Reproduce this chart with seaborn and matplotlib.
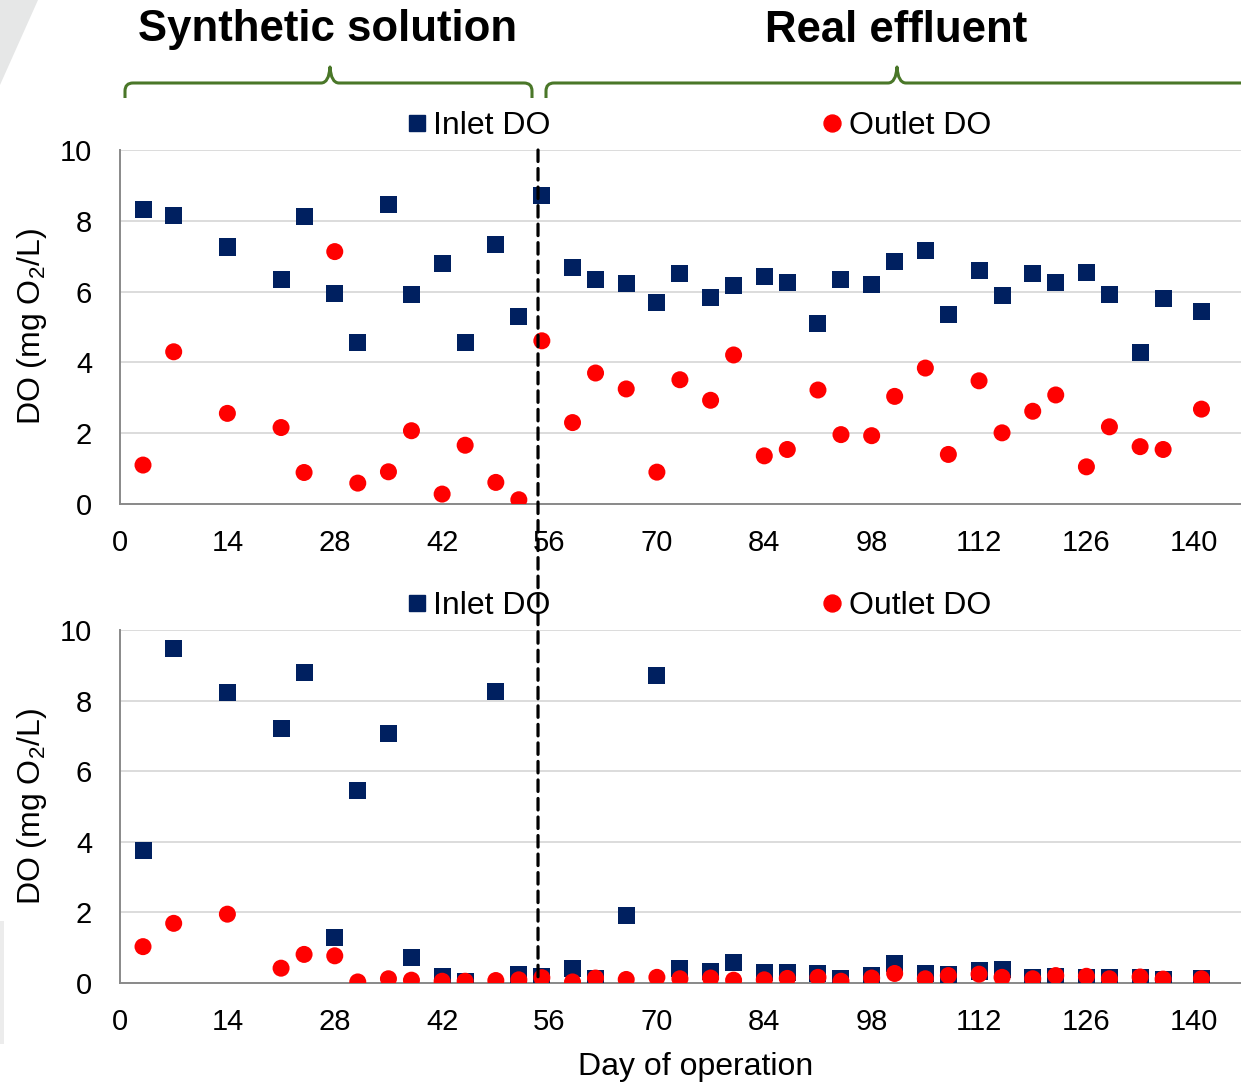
import matplotlib
matplotlib.use("Agg")
import numpy as np
import pandas as pd
import matplotlib.pyplot as plt
import seaborn as sns
from matplotlib.path import Path
from matplotlib.patches import PathPatch, Polygon, Rectangle, ConnectionPatch
from matplotlib.lines import Line2D
from matplotlib.ticker import MultipleLocator

# ---- data -------------------------------------------------------------
days = [3, 7, 14, 21, 24, 28, 31, 35, 38, 42, 45, 49, 52, 55,
        59, 62, 66, 70, 73, 77, 80, 84, 87, 91, 94, 98, 101, 105,
        108, 112, 115, 119, 122, 126, 129, 133, 136, 141]

top_inlet = [8.31, 8.15, 7.26, 6.34, 8.12, 5.94, 4.57, 8.46, 5.91, 6.78, 4.57, 7.33, 5.29, 8.72,
             6.67, 6.33, 6.23, 5.70, 6.50, 5.82, 6.17, 6.42, 6.25, 5.10, 6.33, 6.21, 6.86, 7.15,
             5.36, 6.60, 5.88, 6.50, 6.25, 6.54, 5.93, 4.29, 5.81, 5.44]
top_outlet = [1.10, 4.30, 2.56, 2.16, 0.89, 7.13, 0.59, 0.91, 2.07, 0.28, 1.66, 0.61, 0.12, 4.61,
              2.30, 3.70, 3.25, 0.90, 3.51, 2.93, 4.21, 1.36, 1.54, 3.22, 1.96, 1.93, 3.04, 3.84,
              1.40, 3.48, 2.01, 2.62, 3.08, 1.05, 2.18, 1.62, 1.54, 2.68]

bottom_inlet = [3.76, 9.48, 8.22, 7.22, 8.80, 1.30, 5.44, 7.08, 0.71, 0.19, 0.05, 8.26, 0.24, 0.19,
                0.42, 0.13, 1.91, 8.72, 0.40, 0.32, 0.57, 0.29, 0.31, 0.26, 0.13, 0.20, 0.55, 0.27,
                0.24, 0.34, 0.37, 0.16, 0.18, 0.16, 0.16, 0.15, 0.11, 0.14]
bottom_outlet = [1.03, 1.69, 1.95, 0.42, 0.81, 0.77, 0.03, 0.12, 0.08, 0.05, 0.05, 0.07, 0.09, 0.15,
                 0.03, 0.14, 0.10, 0.16, 0.12, 0.14, 0.08, 0.09, 0.13, 0.16, 0.05, 0.14, 0.27, 0.12,
                 0.21, 0.25, 0.16, 0.12, 0.21, 0.19, 0.12, 0.17, 0.11, 0.12]

series_names = ["Inlet DO", "Outlet DO"]
phase_names = ["Synthetic solution", "Real effluent"]
switch_day = 54.5
x_ticks_major = 14
x_max = 150

# ---- style ------------------------------------------------------------
sns.set_style("white")
plt.rcParams["font.family"] = ["Liberation Sans", "DejaVu Sans"]
plt.rcParams["mathtext.fontset"] = "custom"
plt.rcParams["mathtext.rm"] = "Liberation Sans"
plt.rcParams["mathtext.it"] = "Liberation Sans:italic"
plt.rcParams["text.color"] = "black"
plt.rcParams["axes.labelcolor"] = "black"

NAVY = "#002060"
RED = "#FF0000"
GREEN = "#4A7729"
AXIS_GREY = "#898989"
GRID_GREY = "#D9D9D9"
TICK_FS = 21
LABEL_FS = 23

W, H = 1241, 1084
fig = plt.figure(figsize=(W / 100, H / 100), dpi=100)


def px_rect(l, t, r, b):
    return [l / W, 1 - b / H, (r - l) / W, (b - t) / H]


def fx(x):
    return x / W


def fy(y):
    return 1 - y / H


# faint slide decoration in the corners
fig.patches.append(Polygon([(fx(0), fy(0)), (fx(38), fy(0)), (fx(0), fy(85))],
                           closed=True, transform=fig.transFigure,
                           facecolor="#E6E7E7", edgecolor="none", zorder=-5))
fig.patches.append(Rectangle((fx(0), fy(1044)), fx(3.5), (1044 - 921) / H,
                             transform=fig.transFigure,
                             facecolor="#ECECEC", edgecolor="none", zorder=-5))

ax_top = fig.add_axes(px_rect(120, 150, 1270.5, 504))
ax_bot = fig.add_axes(px_rect(120, 630, 1270.5, 983))


def long_frame(inlet, outlet):
    return pd.DataFrame({
        "day": days + days,
        "DO": inlet + outlet,
        "series": [series_names[0]] * len(days) + [series_names[1]] * len(days),
    })


for ax, inlet, outlet in [(ax_top, top_inlet, top_outlet),
                          (ax_bot, bottom_inlet, bottom_outlet)]:
    sns.scatterplot(data=long_frame(inlet, outlet), x="day", y="DO",
                    hue="series", style="series",
                    palette={series_names[0]: NAVY, series_names[1]: RED},
                    markers={series_names[0]: "s", series_names[1]: "o"},
                    s=150, linewidth=0, ax=ax, legend=False, zorder=3)
    ax.set_xlim(0, x_max)
    ax.set_ylim(0, 10)
    ax.xaxis.set_major_locator(MultipleLocator(x_ticks_major))
    ax.xaxis.set_minor_locator(MultipleLocator(x_ticks_major / 2))
    ax.yaxis.set_major_locator(MultipleLocator(2))
    ax.yaxis.set_minor_locator(MultipleLocator(1))
    ax.grid(axis="y", which="major", color=GRID_GREY, linewidth=1.3, zorder=0)
    ax.grid(axis="x", visible=False)
    ax.set_axisbelow(True)
    for side in ("top", "right"):
        ax.spines[side].set_visible(False)
    for side in ("left", "bottom"):
        ax.spines[side].set_color(AXIS_GREY)
        ax.spines[side].set_linewidth(1.4)
    ax.tick_params(which="both", direction="out", length=7, width=1.2,
                   color=AXIS_GREY, labelsize=TICK_FS, labelcolor="black")
    ax.tick_params(axis="x", which="both", pad=11)
    ax.tick_params(axis="y", which="both", pad=13)
    ax.set_xlabel("")
    ax.set_ylabel(r"DO (mg O$_2$/L)", fontsize=LABEL_FS)
    ax.yaxis.set_label_coords(-71 / 1150.5, 0.5)

ax_bot.set_xlabel("Day of operation", fontsize=LABEL_FS)
ax_bot.xaxis.set_label_coords(0.5, -(1052 - 983) / 353)

# legends above each panel
handles = [Line2D([], [], marker="s", color=NAVY, linestyle="none", markersize=12.2),
           Line2D([], [], marker="o", color=RED, linestyle="none", markersize=12.2)]
for y_px in (126, 606):
    fig.legend(handles, series_names, loc="center",
               bbox_to_anchor=(fx(699), fy(y_px)), ncol=2, frameon=False,
               fontsize=LABEL_FS, handlelength=0.6, handletextpad=0.22,
               columnspacing=8.5, borderpad=0, borderaxespad=0)

# dashed divider between the two feed phases, spanning both panels
con = ConnectionPatch(xyA=(switch_day, 10), coordsA="data", axesA=ax_top,
                      xyB=(switch_day, 0), coordsB="data", axesB=ax_bot,
                      color="black", linewidth=2.3, linestyle=(0, (3.6, 2.2)),
                      zorder=10)
fig.add_artist(con)


# curly braces marking each phase
def brace_path(x0, x1, xm, y=83, drop=98, tip=67, r=8, close_right=True):
    verts = [(x0, drop), (x0, y + r), (x0, y), (x0 + r, y),
             (xm - 9, y), (xm - 1, y), (xm, tip),
             (xm + 1, y), (xm + 9, y)]
    codes = [Path.MOVETO, Path.LINETO, Path.CURVE3, Path.CURVE3,
             Path.LINETO, Path.CURVE3, Path.CURVE3,
             Path.CURVE3, Path.CURVE3]
    if close_right:
        verts += [(x1 - r, y), (x1, y), (x1, y + r), (x1, drop)]
        codes += [Path.LINETO, Path.CURVE3, Path.CURVE3, Path.LINETO]
    else:
        verts += [(x1, y)]
        codes += [Path.LINETO]
    return Path([(fx(a), fy(b)) for a, b in verts], codes)


for path in (brace_path(125, 532, 330), brace_path(546, 1260, 897, close_right=False)):
    fig.patches.append(PathPatch(path, transform=fig.transFigure, facecolor="none",
                                 edgecolor=GREEN, linewidth=2.2, capstyle="butt",
                                 joinstyle="round"))

fig.text(fx(328), fy(30), phase_names[0], ha="center", va="center",
         fontsize=31.5, fontweight="bold")
fig.text(fx(896), fy(30), phase_names[1], ha="center", va="center",
         fontsize=31.5, fontweight="bold")

fig.savefig("out.png", dpi=100)
